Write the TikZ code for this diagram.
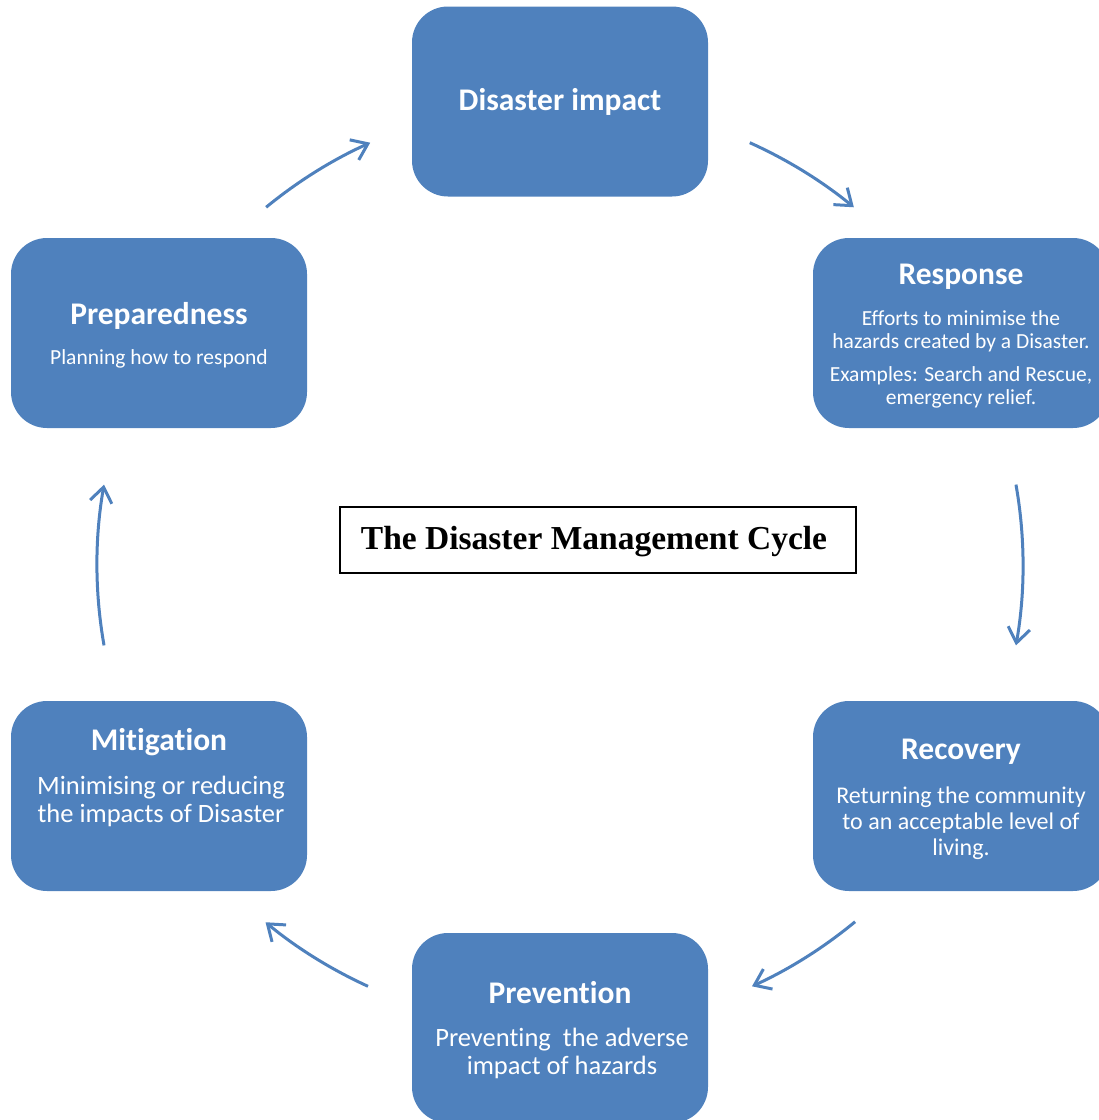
\documentclass[tikz,border=0pt]{standalone}
\usepackage{fontspec}
\setmainfont{Carlito}[Ligatures=NoCommon]
\newfontfamily\titlefont{Liberation Serif}
\usetikzlibrary{arrows.meta}
\definecolor{boxblue}{HTML}{4F81BD}
\begin{document}
\begin{tikzpicture}[x=1pt,y=-1pt,
  box/.style={fill=boxblue, draw=none, rounded corners=36pt, minimum width=296pt, minimum height=190pt, inner sep=0pt},
  head/.style={text=white, inner sep=0pt, font=\fontsize{31.5}{36}\selectfont\bfseries},
  smallbody/.style={text=white, align=center, inner sep=0pt, font=\fontsize{21.5}{23}\selectfont},
  midbody/.style={text=white, align=center, inner sep=0pt, font=\fontsize{24}{26}\selectfont},
  bigbody/.style={text=white, align=center, inner sep=0pt, font=\fontsize{26.5}{28}\selectfont},
  cyc/.style={draw=boxblue, line width=3pt, -{Straight Barb[length=15pt,width=22pt]}}
]
\useasboundingbox (0,0) rectangle (1099,1120);
\clip (0,0) rectangle (1099,1120);

% boxes
\node[box] (impact) at (560,101.5) {};
\node[box] (response) at (961,333) {};
\node[box] (prep) at (159,333) {};
\node[box] (mitig) at (159,796) {};
\node[box] (recov) at (961,796) {};
\node[box] (prevent) at (560,1028) {};

% texts
\node[head] (timpact) at (560,102) {Disaster impact};
\node[head] (tresp) at (961,277) {Response};
\node[smallbody] (bresp1) at (961,331) {Efforts to minimise the\\hazards created by a Disaster.};
\node[smallbody] (bresp2) at (961,387) {Examples: Search and Rescue,\\emergency relief.};
\node[head] (tprep) at (159,316) {Preparedness};
\node[smallbody] (bprep) at (159,359) {Planning how to respond};
\node[head] (tmitig) at (159,742) {Mitigation};
\node[bigbody] (bmitig) at (161,801) {Minimising or reducing\\the impacts of Disaster};
\node[head] (trecov) at (961,752) {Recovery};
\node[midbody] (brecov) at (961,823) {Returning the community\\to an acceptable level of\\living.};
\node[head] (tprev) at (560,993) {Prevention};
\node[bigbody] (bprev) at (562,1053) {Preventing\ \ the adverse\\impact of hazards};

% title
\node[draw=black, line width=1.8pt, minimum width=516pt, minimum height=66pt, inner sep=0pt] (titlebox) at (598,540) {};
\node[inner sep=0pt, font=\titlefont\fontsize{33.5}{38}\selectfont\bfseries] (title) at (594,542) {The Disaster Management Cycle};

% cycle arrows
\coordinate (O) at (560,565);
\path (O) ++(-129.4:463) coordinate (a1);
\path (O) ++(-65.8:463) coordinate (a2);
\path (O) ++(-10:463) coordinate (a3);
\path (O) ++(50.4:463) coordinate (a4);
\path (O) ++(114.5:463) coordinate (a5);
\path (O) ++(170:463) coordinate (a6);
\draw[cyc] (a1) arc[start angle=-129.4, end angle=-114.2, radius=463];
\draw[cyc] (a2) arc[start angle=-65.8, end angle=-50.6, radius=463];
\draw[cyc] (a3) arc[start angle=-10, end angle=10, radius=463];
\draw[cyc] (a4) arc[start angle=50.4, end angle=65.5, radius=463];
\draw[cyc] (a5) arc[start angle=114.5, end angle=129.5, radius=463];
\draw[cyc] (a6) arc[start angle=170, end angle=190, radius=463];
\end{tikzpicture}
\end{document}
